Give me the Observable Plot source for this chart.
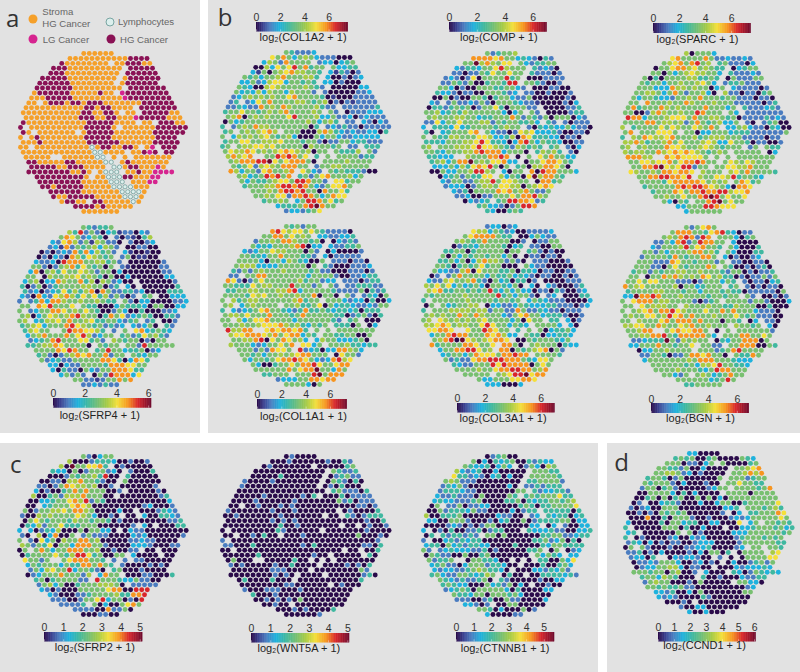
<!DOCTYPE html>
<html>
<head>
<meta charset="utf-8">
<script src="https://cdn.jsdelivr.net/npm/d3@7"></script>
<script src="https://cdn.jsdelivr.net/npm/@observablehq/plot@0.6"></script>
<style>
html,body{margin:0;padding:0;background:#fff}
#root{position:relative;width:800px;height:672px;overflow:hidden;background:#fff;font-family:"Liberation Sans",Arial,sans-serif}
.panel{position:absolute;background:#e2e2e2}
.letter{position:absolute;font-family:"Open Sans",sans-serif;font-size:24px;line-height:24px;color:#333;transform:translate(-50%,-50%)}
.lg{position:absolute;font-size:9.6px;line-height:11px;color:#666;white-space:nowrap;transform:translateY(-50%)}
.ld{position:absolute;border-radius:50%;transform:translate(-50%,-50%);box-sizing:border-box}
svg{position:absolute;overflow:visible}
</style>
</head>
<body>
<div id="root"></div>
<script>
// column of the first spot in each of the 33 rows of the tissue array
const rowStart = [11,9,7,6,5,4,3,3,2,2,1,1,0,1,0,0,0,0,0,0,0,1,1,2,1,3,3,4,5,6,7,10,11];
// array positions with no spot [row, column]
const holes = [[2,16],[3,19],[4,18],[5,18],[6,17],[7,19],[8,17],[10,3],[11,21],[12,21],[12,18],[14,21],[14,24],[15,18],[15,1],[16,2],[16,10],[17,1],[19,2],[19,22],[19,25],[20,25],[21,6],[21,7],[21,16],[21,18],[21,20],[20,19],[22,17],[23,16],[24,18],[24,13],[25,13],[26,19],[30,12]];

// colour-bar fractions that each digit (0-9,a) stands for, and their colours
const levels = [0,.07,.15,.25,.35,.46,.55,.65,.76,.86,1];
const palette = ["#2a0b4a","#3a3f8f","#4a7cc0","#1fb2dd","#3fb8a0","#78c070","#a8cc44","#f4e03a","#f7951f","#d9262b","#6a0a2e"];

const annotation = ["SSSSS S","SSSSS SSSSS SHHHH","HSSSS SSSSS SSHHH SS","HHHSS SSSSS SSSSH HHHH","HHHSS SSSSS SSSSH HHHHH","HHHHH SSSSS SSSSS SHHHH HH","HHHHH HSSSS SSSSS SHHHH HH","HHHHH HHSSS SSSSS SHHHH HHHH","SHHHH HHSSS SSHSS SLHHH HHHHH","SSSHH HHHSS SSSSS SSLHH HHHHH H","SSSSH HHSHH SHHHS SSSSS SHHHH HH","SSSSS SSSSS SHHSH HSSSS SHHHH HHH","SSSSS SSSSS SHHSS HHSSS SSHHH HHSS","SSSSS SSSSS HHHSS HHSSS LHHHH HSSS","HSSSS SSSSS SSHHH HHSSS SSSSS HHHSS","HSSSS SSSSS SSHHH HHSSS SSSSS HHHHH H","HSSSS SSSSS SSHHH HHSSS SSSSH HHHHH","SSSHS SSSSS SSHHH HHSSS SSSSS HHHH","SSSHS SSSSS SSHHH HHHSS SSSSH HHHH","SSSSS SSSSS SSSTS HHSSH HSSSL HHHH","SSSSS SSSSS SSSTT SSSSH SSHLH HHH","SSSSS SSSSS SSSTT SSSSS SSSSS SS","HHSSS SSHHS SSSST TTSHS SSSSS S","HHHHH SSHHH SSSST TTSHH SSSLS","HHHHH HHHSS HSSST TTTSS HSSLL LL","HHHHH HHHHS SSSTT THHSS SLL","HHHHH HHHSS SSSTT TTSSS LL","HHSHH HHHSS SSSTT TTSSS","HHHHH HSSSS SSSTT TTS","HSSHH HHHSS SSSTT TS","SHHSS HHHSS SSSTS","HHHHS HSSSS S","SSSSS SS"];

const SFRP4 = ["54244 5","64925 20341 22032","58752 35401 20210 46","32786 25165 22002 0023","23182 54563 65200 02200","02023 28483 64522 31001 00","02032 08647 65452 25011 00","32230 98885 56645 20000 0002","55202 56847 54505 22100 00022","38056 47557 65255 03000 00002 2","55306 55667 56540 50030 00000 33","35603 38655 84606 52300 00000 002","40250 24555 56655 02453 00000 0004","42302 34746 46808 52244 23000 0444","32083 27686 47574 62520 24450 00333","24248 38865 56556 54465 20330 00022 3","55587 95557 45440 00354 44305 50033","50235 58875 65754 00253 00400 0223","56035 76568 96550 48572 34540 0442","56534 66758 55674 45532 45524 0002","45673 55589 76545 24233 32350 442","46755 65598 87764 32455 78345 43","35685 55857 96235 52452 47564 2","23458 95557 74525 65455 02055","44566 87555 50554 55255 29555 55","55558 79855 74595 53445 023","45202 56878 55825 55543 55","52342 25555 58874 03874","33032 25555 48887 755","30422 05325 58887 44","35252 30529 88837","55221 25585 8","22324 22"];

const COL1A2 = ["54222 3","75853 56532 22000","36528 55554 23303 45","00637 57958 45555 3344","31505 67866 55453 14202","54535 56855 56645 30020 23","33523 67735 54545 33020 00","54300 67655 55654 24000 0033","53436 36553 65552 02000 00223","23565 65655 78555 54010 00222 2","24523 75855 55665 45602 02122 22","22432 28565 86555 56422 02222 224","45575 54565 68555 56545 22022 2333","56805 65655 57955 56335 22302 3222","05345 55555 55555 65356 40222 32032","44256 58665 55555 50452 32422 02222 2","45356 56786 65550 00686 43232 23304","53365 65675 45630 00535 53223 3333","45577 55666 75554 55202 25534 4222","45556 67767 55555 06555 45622 2444","57668 75656 78765 60555 54446 452","68678 66559 89857 24555 55552 44","56888 99a75 78885 05555 56555 5","54572 67658 88552 25566 55555","86355 27855 68775 32554 54442 00","56345 98958 54525 78555 635","53544 56775 99855 22774 55","45556 68998 98532 57785","55565 89989 55085 574","55657 72889 85358 77","45565 53599 85745","34445 89a85 5","23324 57"];

const COMP = ["52455 6","88887 85534 32042","55a68 65775 53244 55","32443 55796 55554 2320","22022 54755 75534 22202","23202 70555 59458 00022 22","22542 50045 54995 55420 02","55302 00555 44553 20000 2200","43320 22005 55423 02200 20002","00502 00554 04553 22500 00002 0","32725 22325 20555 43221 00002 03","04424 54502 55740 55522 20000 224","55634 54655 55553 03555 22000 0244","56555 66553 44555 85254 25055 5032","22735 57555 66254 55445 32422 20222","34444 37345 55545 65532 04343 35322 0","40334 55578 65322 02767 33342 00220","53544 66555 77633 46087 44433 0220","44435 55667 97443 03895 35443 0022","56455 56667 97765 42654 54445 3203","55435 55668 98883 55505 46564 220","44333 87655 58898 50356 75855 33","45635 88a56 57783 30055 78875 4","33353 64787 95055 45066 88750","00533 55699 65230 55380 98855 53","03452 54477 76354 07a68 854","32552 25669 57765 53088 45","23330 25665 77660 56787","32405 55587 85685 225","22300 22555 75889 65","03234 54599 88724","45332 02599 8","43004 54"];

const SPARC = ["60555 3","78555 58522 32232","56785 89564 45222 03","05578 86756 54400 3455","55053 56766 55334 22232","50405 55566 44543 05222 55","54553 55655 67532 24452 22","55533 38665 65503 55322 2202","55665 35852 55630 56220 22045","53554 33255 65855 54552 22022 0","55685 55655 86555 65552 22220 24","58455 58656 55558 55535 24222 342","55002 68655 65598 55555 35222 2222","98835 55677 75855 66545 02222 4232","55558 85665 62585 45633 55202 24500","65455 55757 65576 58533 35632 20430 0","58755 57775 65503 35553 44422 22225","45658 76678 55564 56665 55222 2022","66864 55685 75556 76337 55402 2002","56556 55587 76556 76545 55325 5544","65665 58678 78765 45656 55555 503","88866 85878 77775 65655 55555 55","55776 77857 88985 55576 57655 5","55889 a7679 92552 55776 68555","76556 58878 87665 55567 58555 54","55889 98879 76557 76945 543","55554 78888 87565 67587 45","45555 58989 98765 30887","45558 75889 88996 778","55655 75589 a9575 57","53054 55589 a5755","33555 99877 7","35555 55"];

const COL1A1 = ["54525 5","89767 75754 22220","55885 75654 33223 34","25565 88655 45000 3242","53435 55689 03343 22445","32355 76655 50525 03000 02","55443 55855 54425 30222 22","55553 05536 54300 55222 0220","56663 33355 55505 54200 02223","42525 65556 55554 52200 02220 2","22555 88555 55553 55552 00223 44","87202 57555 55564 55233 22220 244","55444 75665 55955 52555 25224 4422","44556 65556 68935 55554 22225 0424","55554 76755 65565 58055 04523 24305","55645 66555 55568 45535 55323 30400 3","56235 65555 55564 45705 34432 23255","44323 45785 54324 84454 34434 0444","56657 55585 55458 55555 44024 5204","55763 57785 55535 55555 42345 5000","55565 56777 86564 35455 44405 303","96688 65787 88784 55555 55555 55","67788 87685 78835 45554 45500 5","55668 90758 75635 36553 33450","65553 23557 58777 35055 56443 44","55525 28775 89234 03388 653","55453 55656 78855 53075 52","53554 57889 87532 38967","53004 55758 89755 788","55555 58578 8a553 85","44555 65559 a5888","23335 58878 8","55553 05"];

const COL3A1 = ["23302 3","76635 42300 22223","57888 85445 00353 22","56545 85555 00240 2255","02443 55554 03422 20055","44550 45555 50554 45202 00","50535 45545 53504 02202 20","44535 03686 65252 00222 0002","55404 54574 55000 05322 00000","53322 68075 55445 04430 22002 2","02825 85555 35445 34320 22002 02","32267 55684 20534 04402 20000 222","65757 35345 30554 35023 00320 0024","67844 55454 59435 35330 22042 0023","54555 55655 55594 53552 04230 00044","43555 55565 55545 54553 54322 20000 3","05353 45566 60332 23543 33442 22023","40555 66665 66255 22852 24322 0222","56565 58658 65553 25785 53444 2002","56676 56565 67555 53507 55444 4302","66787 56655 79755 35432 55553 330","77887 78755 98755 34555 50344 53","35589 88555 87863 35544 03344 3","56890 a7656 78875 00545 55435","84555 58875 57888 50556 55504 33","35588 99756 88805 45678 052","34553 58777 58898 85555 54","52422 78899 98885 43775","43225 55979 88880 575","55556 55788 99885 68","55555 55679 9a788","53355 57788 7","33300 03"];

const BGN = ["52578 5","58885 54789 43022","56589 82989 55530 45","22538 92598 85553 0000","32555 69578 55405 30004","55253 55568 85644 53000 44","25555 48545 58855 30200 23","55522 28755 45552 55220 0220","55522 05754 55586 55400 20240","45525 45566 55655 54255 02022 4","55505 58686 56587 56440 20225 25","55757 75552 22025 55354 22022 034","85675 55556 05534 55554 54202 0220","45555 66555 45535 55454 40222 2205","33a88 98555 65555 45545 52525 00202","55788 85665 55520 24555 55525 52000 3","55575 66655 76555 65544 65550 04000","55567 85889 76555 75585 85553 2220","56557 75697 85855 56555 75452 2200","55765 55785 88858 55505 54603 2220","66775 58655 76855 65552 65545 530","55688 55578 77885 30555 55555 52","55668 89548 88885 35555 88557 5","22344 4a526 56555 04355 88805","33555 85545 57555 22555 88800 54","03355 65555 55552 45895 555","22554 02258 87855 00544 85","35555 55565 88855 54333","55555 54536 67955 443","55556 55543 59885 55","55325 55653 45855","55555 53459 5","44555 55"];

const SFRP2 = ["52035 5","60002 44430 02002","60a55 77845 02000 00","43305 02555 23002 0004","00025 45564 90004 00000","00220 66855 42000 50000 00","22025 87665 60020 00000 02","30200 45858 55500 20000 0020","60045 26668 55500 00000 00024","00334 55786 92540 00000 00000 3","00834 55578 76000 00000 02300 02","50255 66758 86500 00300 00002 432","20065 65555 76530 02000 00300 4432","05754 55546 55455 40200 00000 0224","04362 55744 45550 00000 22302 00044","30302 43600 05055 33000 32200 00000 0","20260 38005 62522 20000 32300 00002","55207 35065 58856 00000 22322 0000","65254 70553 88855 20000 33320 0022","05558 53558 88556 00200 22000 4000","04555 57546 99745 00555 30000 000","75525 55578 88554 22227 22000 00","35455 53544 88585 42200 00202 0","25367 55935 54202 45000 20000","02355 58555 26538 55200 02200 04","45045 55522 59555 43352 200","25635 00455 56665 00222 22","32020 00555 55788 00999","32000 22455 55644 889","22200 25579 35502 09","22224 55030 05785","22220 08225 0","00022 00"];

const WNT5A = ["02000 0","00020 00000 20042","02000 00000 00000 45","00000 00000 00005 4224","00000 40000 00000 24522","20000 20000 00000 05420 40","20000 00000 00004 02040 00","00000 00000 00000 00452 2204","00000 20000 00204 00004 02222","00002 00000 02000 00005 24022 2","00000 20002 02000 00000 00022 02","20000 00020 00200 00000 00200 004","00200 00000 20000 00000 00420 2444","00000 00020 20200 00000 00000 2004","00000 00000 40020 00000 00000 02002","00000 00000 42000 00000 00000 02000 0","00000 20400 00002 00000 00005 00020","20000 00000 00000 00000 00000 0002","22000 40000 00002 04000 00000 2204","00200 00000 00000 00000 00000 0004","00000 04000 00000 02000 00000 040","05000 50000 00400 00000 00000 00","20200 00020 04000 00000 02020 4","00000 00222 00000 00000 00052","00000 00020 20000 00000 00002 40","04000 04000 00000 00000 004","00000 00022 00000 00020 00","20002 22000 20000 00000","40002 00000 00000 000","00202 02050 00000 00","00200 00000 00000","00020 20000 4","00000 02"];

const CTNNB1 = ["02450 0","50304 34500 42433","54334 03530 02530 65","63234 00300 00055 5544","74423 20340 30055 55554","56522 20000 00005 44555 52","24352 00000 00302 22424 44","24443 22000 00005 52423 3442","32242 22050 00054 44545 55744","34332 22450 00044 50434 45545 6","05022 50223 30000 04540 44555 57","00524 44352 20000 30244 34444 404","60044 45000 00032 20032 34434 4034","33005 55200 02034 00502 44445 5033","00002 32020 25500 00003 33032 20033","34020 40022 40244 00024 33342 20033 4","04342 44242 35505 00000 04455 22344","25003 42434 40000 00000 44523 5040","34405 34244 33000 04000 04355 4444","52023 43332 24020 00004 45505 5023","05422 00500 45000 00000 53543 533","52445 40055 44300 00000 44005 37","34522 03555 24430 00000 40045 3","32332 24565 44302 00033 24352","45322 55434 65304 00000 44443 42","54324 22450 24200 00020 033","45433 00053 42503 00002 00","23454 05555 53040 00033","54435 50555 45300 000","22200 24005 22000 03","33202 20055 00000","55403 00050 2","30000 22"];

const CCND1 = ["33000 0","45450 04500 00543","55502 20350 50000 45","55442 50030 00055 5678","55665 23020 00055 56868","45540 25000 00054 55524 55","54555 20300 02005 55755 44","25504 52000 00235 55555 5458","00555 53040 30000 55555 05555","00450 50450 05050 30555 55555 5","02300 34420 00300 35500 45555 57","20230 05550 00000 00334 55554 564","00202 05454 50000 00230 33445 5587","00080 04055 52002 00023 23555 5575","30000 04055 34400 33000 74355 55454","43000 00555 04003 00040 03345 55453 4","34500 00005 05020 00003 33555 55545","44020 00023 00323 00000 24555 4545","24303 02022 00233 30000 25555 5544","05552 00020 02233 40000 23455 4554","22402 03000 02030 55040 05555 567","23304 45032 33200 02003 05555 77","02232 55530 02302 00030 02452 5","02335 56630 22003 00032 33343","55545 50560 02030 00343 02543 43","45536 54000 54002 00032 244","25655 00020 50000 00553 30","55454 45220 00000 00023","33240 03050 00000 055","32320 00042 00000 00","00020 00000 00000","20033 00000 0","30030 00"];

const catNames = ["S","H","L"];
const catColors = ["#f5a02a","#8a1255","#d6248f"];

// gene, rows, scale maximum, tick labels
const panels = [
 {gene:"SFRP4", rows:SFRP4, max:6.2, ticks:[0,2,4,6]},
 {gene:"COL1A2",rows:COL1A2,max:7.6, ticks:[0,2,4,6]},
 {gene:"COMP",  rows:COMP,  max:7.0, ticks:[0,2,4,6]},
 {gene:"SPARC", rows:SPARC, max:7.5, ticks:[0,2,4,6]},
 {gene:"COL1A1",rows:COL1A1,max:7.4, ticks:[0,2,4,6]},
 {gene:"COL3A1",rows:COL3A1,max:7.0, ticks:[0,2,4,6]},
 {gene:"BGN",   rows:BGN,   max:6.85,ticks:[0,2,4,6]},
 {gene:"SFRP2", rows:SFRP2, max:5.14,ticks:[0,1,2,3,4,5]},
 {gene:"WNT5A", rows:WNT5A, max:5.1, ticks:[0,1,2,3,4,5]},
 {gene:"CTNNB1",rows:CTNNB1,max:5.6, ticks:[0,1,2,3,4,5]},
 {gene:"CCND1", rows:CCND1, max:6.1, ticks:[0,1,2,3,4,5,6]}
];

// page layout: map box [x0,x1,y0,y1], bar box [x0,x1,y0,y1], title centre x, title centre y
const layout = {
 annotation:{map:[20,185,52.7,210.7]},
 SFRP4: {map:[19,185.7,226.7,384],  bar:[52.7,151,397.7,407.3],  tx:99,    ty:418},
 COL1A2:{map:[222,388.3,52.3,210.7],bar:[255.7,347.7,22.3,31.7], tx:302.3, ty:40.7},
 COMP:  {map:[423.3,590,53.3,210.7],bar:[449,546.7,22.3,32],     tx:498.3, ty:40.7},
 SPARC: {map:[621.7,788.3,52.7,210.7],bar:[653.3,751,23.3,33.3], tx:697.3, ty:42.7},
 COL1A1:{map:[221.7,388.3,226,384], bar:[256.7,346.7,399.3,409], tx:302.7, ty:420},
 COL3A1:{map:[423.3,590,226,384],   bar:[456.7,554.3,403.3,412.7],tx:502.3,ty:421.7},
 BGN:   {map:[621.7,788.3,226.7,384],bar:[651,749,403.3,413.3],  tx:700,   ty:421.7},
 SFRP2: {map:[19,185.7,456,614],    bar:[44.3,142.7,632.3,641.7],tx:94.7,  ty:650.7},
 WNT5A: {map:[221.7,388.3,456,614], bar:[251,349.3,633.3,642.7], tx:298.3, ty:651.7},
 CTNNB1:{map:[423.3,590,456,614],   bar:[455.7,554,632.3,641.7], tx:504.3, ty:651.7},
 CCND1: {map:[625,791.7,453.3,611.7],bar:[658.3,756,632.3,641.7],tx:704.3, ty:649}
};

const root = document.getElementById("root");
const ramp = d3.scaleLinear().domain(levels).range(palette).clamp(true);
const holeSet = new Set(holes.map(h => h.join(",")));

function spots(rows, value) {
  return rows.flatMap((s, r) => [...s.replace(/ /g, "")].map((ch, k) => {
    const col = rowStart[r] + k;
    return {r, col, x: col + (r % 2 ? 0 : 0.5), v: value(ch)};
  })).filter(d => !holeSet.has(d.r + "," + d.col));
}

function place(svg, left, top) {
  svg.style.left = left + "px";
  svg.style.top = top + "px";
  root.appendChild(svg);
}

function addPanel(x, y, w, h) {
  const d = document.createElement("div");
  d.className = "panel";
  d.style.cssText = `left:${x}px;top:${y}px;width:${w}px;height:${h}px`;
  root.appendChild(d);
}
addPanel(0,0,200,433);
addPanel(208,0,592,433);
addPanel(0,443,598,229);
addPanel(607,443,193,229);

function mapPlot(box, color, marks) {
  const m = 5;
  const svg = Plot.plot({
    width: box[1]-box[0]+2*m, height: box[3]-box[2]+2*m,
    marginTop:m, marginBottom:m, marginLeft:m, marginRight:m,
    x:{domain:[0,30], axis:null},
    y:{domain:[0,32], reverse:true, axis:null},
    color,
    style:{background:"transparent", overflow:"visible"},
    marks
  });
  place(svg, box[0]-m, box[2]-m);
}

// panel a: annotation map
const annotated = spots(annotation, ch => ch);
mapPlot(layout.annotation.map, {domain:catNames, range:catColors}, [
  Plot.dot(annotated.filter(d => d.v !== "T"), {x:"x", y:"r", r:2.45, fill:"v"}),
  Plot.dot(annotated.filter(d => d.v === "T"), {x:"x", y:"r", r:2.1, fill:"#dcefed", stroke:"#7aa5a2", strokeWidth:0.9})
]);

// expression maps and colour bars
for (const p of panels) {
  const L = layout[p.gene];
  const data = spots(p.rows, ch => levels[parseInt(ch, 11)] * p.max);
  const color = {type:"linear", domain:[0,p.max], interpolate:t => ramp(t)};
  mapPlot(L.map, color, [Plot.dot(data, {x:"x", y:"r", r:2.45, fill:"v"})]);

  const step = p.max/140;
  const steps = d3.range(0, p.max, step);
  const mt = 14, mb = 18, mx = 14, bw = L.bar[1]-L.bar[0], bh = L.bar[3]-L.bar[2];
  const bar = Plot.plot({
    width: bw+2*mx, height: bh+mt+mb,
    marginTop:mt, marginBottom:mb, marginLeft:mx, marginRight:mx,
    x:{domain:[0,p.max], label:null},
    y:{domain:[0,1], axis:null},
    color,
    style:{background:"transparent", overflow:"visible", fontFamily:"'Liberation Sans',Arial,sans-serif"},
    marks:[
      Plot.rect(steps, {x1:d=>d, x2:d=>Math.min(p.max,d+step*1.6), y1:0, y2:1, fill:d=>d}),
      Plot.ruleX(p.ticks, {stroke:"#fff", strokeOpacity:0.7, strokeWidth:0.6, y1:0, y2:0.22}),
      Plot.axisX(p.ticks, {anchor:"top", tickSize:0, tickPadding:1, label:null, fontSize:10.5, fill:"#333", tickFormat:d=>d}),
      Plot.text([`log₂(${p.gene} + 1)`], {
        frameAnchor:"bottom", text:d=>d, fontSize:11, fill:"#222",
        dx:L.tx-(L.bar[0]+L.bar[1])/2, dy:L.ty-L.bar[3]
      })
    ]
  });
  place(bar, L.bar[0]-mx, L.bar[2]-mt);
}

// panel letters
for (const [t,x,y] of [["a",12.7,18],["b",225,17],["c",15.7,464],["d",621.7,462]]) {
  const e = document.createElement("div");
  e.className = "letter"; e.textContent = t;
  e.style.left = x+"px"; e.style.top = y+"px";
  root.appendChild(e);
}

// panel a legend
const legendDots = [[33,19,"#f5a02a",null],[110,21.7,"#dcefed","#7aa5a2"],[33,39,"#d6248f",null],[110.7,39,"#8a1255",null]];
for (const [x,y,f,s] of legendDots) {
  const e = document.createElement("div");
  e.className = "ld";
  e.style.cssText = `left:${x}px;top:${y}px;width:9px;height:9px;background:${f};`+(s?`border:1px solid ${s};`:"");
  root.appendChild(e);
}
const legendText = [["Stroma",42.3,11],["HG Cancer",42.3,22.7],["Lymphocytes",118,21],["LG Cancer",42.7,39],["HG Cancer",120,39]];
for (const [t,x,y] of legendText) {
  const e = document.createElement("div");
  e.className = "lg"; e.textContent = t;
  e.style.left = x+"px"; e.style.top = y+"px";
  root.appendChild(e);
}
</script>
</body>
</html>
